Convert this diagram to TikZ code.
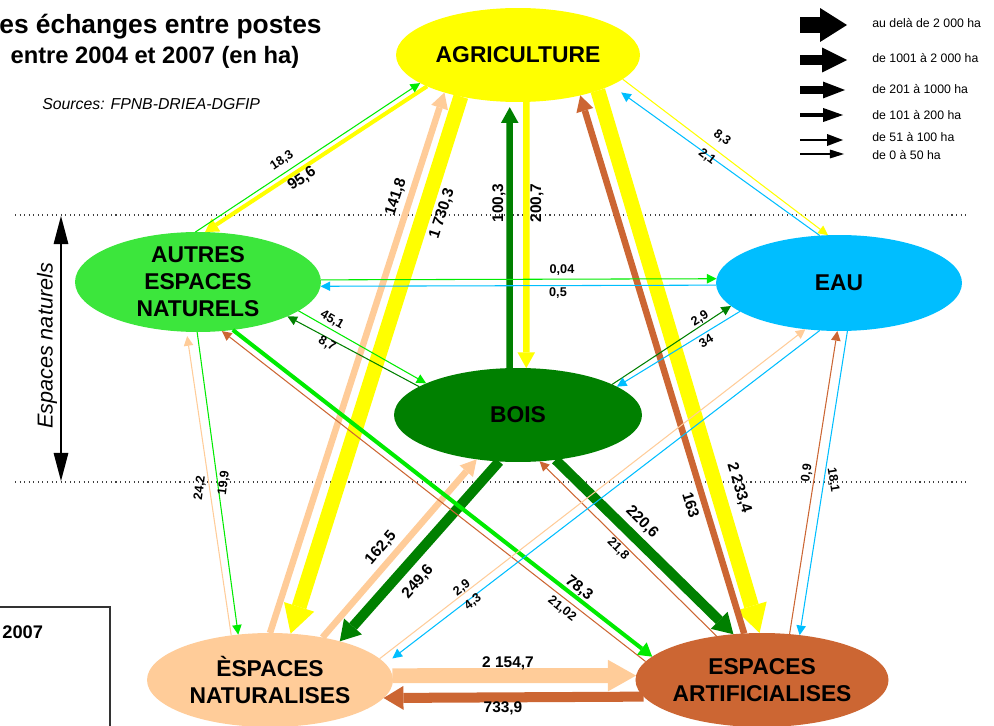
\documentclass[tikz,border=0pt]{standalone}
\usepackage{fontspec}
\setmainfont{Liberation Sans}
\usepackage{xcolor}
\usetikzlibrary{arrows.meta, shapes.geometric}

\definecolor{jaune}{RGB}{255,255,0}
\definecolor{vertclair}{RGB}{60,230,60}
\definecolor{vert}{RGB}{0,235,0}
\definecolor{vertfonce}{RGB}{0,128,0}
\definecolor{bleu}{RGB}{0,190,255}
\definecolor{peche}{RGB}{255,204,153}
\definecolor{brique}{RGB}{204,102,51}

\tikzset{
	poste/.style = {ellipse, inner sep=0pt, outer sep=0pt, align=center, font=\fontsize{13}{15.4}\selectfont\bfseries},
	fa/.style = {line width=0.6pt, -{Triangle[length=5.5pt, width=5.5pt, line width=0pt]}},
	fb/.style = {line width=2.3pt, -{Triangle[length=7.5pt, width=9pt, line width=0pt]}},
	fc/.style = {line width=3.7pt, -{Triangle[length=9pt, width=10pt, line width=0pt]}},
	fd/.style = {line width=5.7pt, -{Triangle[length=11.3pt, width=13.6pt, line width=0pt]}},
	fe/.style = {line width=8.5pt, -{Triangle[length=16pt, width=18pt, line width=0pt]}},
	petit/.style = {font=\fontsize{7.2}{8}\selectfont\bfseries, inner sep=0pt},
	grand/.style = {font=\fontsize{8.8}{10}\selectfont\bfseries, inner sep=0pt},
	legende/.style = {font=\fontsize{7}{8}\selectfont, anchor=west, inner sep=0pt},
}

\begin{document}
\begin{tikzpicture}[x=0.02cm, y=-0.02cm]
			\useasboundingbox (0,0) rectangle (994,726);

			\begin{scope}
				\node [anchor=west, inner sep=0pt, font=\fontsize{15}{17}\selectfont\bfseries] (titre) at (-1,27) {es échanges entre postes};
				\node [inner sep=0pt, font=\fontsize{13.5}{16}\selectfont\bfseries] (periode) at (155,57) {entre 2004 et 2007 (en ha)};
				\node [anchor=west, inner sep=0pt, font=\fontsize{9}{11}\selectfont\itshape] (sources) at (42,104) {Sources: FPNB-DRIEA-DGFIP};
			\end{scope}

			\begin{scope}[dotted, line width=0.6pt, black!75]
				\draw (15,215) -- (967,215);
				\draw (15,482) -- (967,482);
			\end{scope}

			\coordinate (haut) at (61,216);
			\coordinate (bas) at (61,481);
			\draw [line width=0.6pt, {Triangle[length=16pt, width=8.5pt, line width=0pt]}-{Triangle[length=16pt, width=8.5pt, line width=0pt]}] (haut) -- (bas);
			\node [rotate=90, inner sep=0pt, font=\fontsize{12.3}{15}\selectfont\itshape] (naturels) at (47,346) {Espaces naturels};

			\draw [line width=0.6pt, black!80] (-5,607) rectangle (110,740);
			\node [anchor=west, inner sep=0pt, font=\fontsize{10.4}{12}\selectfont\bfseries] (annee) at (2,632) {2007};

			\foreach \i/\y/\lw/\hl/\hw/\xe/\yt/\txt in {
					1/25/9.6pt/15.3pt/19.3pt/847/23/au delà de 2 000 ha,
					2/60/5.7pt/14.2pt/14.2pt/847/58/de 1001 à 2 000 ha,
					3/90/4pt/12.5pt/9.6pt/845/89/de 201 à 1000 ha,
					4/115/2.8pt/11.3pt/8pt/843/115/de 101 à 200 ha,
					5/140/1.7pt/9pt/6.8pt/843/137/de 51 à 100 ha,
					6/154/0.6pt/8pt/5.1pt/844/155/de 0 à 50 ha}{
				\coordinate (lgd\i) at (800,\y);
				\coordinate (lgf\i) at (\xe,\y);
				\draw [line width=\lw, -{Triangle[length=\hl, width=\hw, line width=0pt]}] (lgd\i) -- (lgf\i);
				\node [legende] (lgt\i) at (872,\yt) {\txt};
			}

			\begin{scope}
				\node [poste, fill=jaune, minimum width=4.88cm, minimum height=1.88cm] (agri) at (518,55) {AGRICULTURE};
				\node [poste, fill=vertclair, minimum width=4.92cm, minimum height=2cm] (autres) at (198,282) {AUTRES\\ESPACES\\NATURELS};
				\node [poste, fill=bleu, minimum width=4.92cm, minimum height=1.92cm] (eau) at (839,283) {EAU};
				\node [poste, fill=vertfonce, minimum width=4.96cm, minimum height=1.88cm] (bois) at (518,415) {BOIS};
				\node [poste, fill=peche, minimum width=4.92cm, minimum height=1.88cm] (espnat) at (270,680) {ÈSPACES\\NATURALISES};
				\node [poste, fill=brique, minimum width=4.96cm, minimum height=1.88cm] (espart) at (762,680) {ESPACES\\ARTIFICIALISES};
			\end{scope}

			\begin{scope}
				\draw [fe, jaune] (agri.216) -- (espnat.66);
				\draw [fe, jaune] (agri.336) -- (espart.93);
				\draw [fe, peche] (espnat.2) -- (espart.178);

				\draw [fd, vertfonce] (bois.248) -- (espnat.29.2);
				\draw [fd, vertfonce] (bois.310.7) -- (espart.122);
				\draw [fd, brique] (espart.188) -- (espnat.351.8);

				\draw [fc, peche] (espnat.90) -- (agri.207);
				\draw [fc, vertfonce, shorten >=3pt] (bois.100) -- (agri.260);
				\draw [fc, jaune] (agri.280) -- (bois.80.5);
				\draw [fc, brique] (espart.111.6) -- (agri.327);
				\draw [fc, peche] (espnat.39) -- (bois.227.5);

				\draw [fb, jaune] (agri.199) -- (autres.82);
				\draw [fb, vert] (autres.306) -- (espart.168.6);

				\draw [fa, vert] (autres.93) -- (agri.196);
				\draw [fa, jaune] (agri.347) -- (eau.103);
				\draw [fa, bleu, shorten >=7pt] (eau.112) -- (agri.342.5);
				\draw [fa, vert] (autres.1) -- (eau.178.6);
				\draw [fa, bleu] (eau.181.4) -- (autres.358);
				\draw [fa, vert] (autres.344) -- (bois.161.4);
				\draw [fa, vertfonce] (bois.164.4) -- (autres.339.8);
				\draw [fa, peche, shorten >=2.5pt] (espnat.131.8) -- (autres.257.6);
				\draw [fa, vert] (autres.269) -- (espnat.125);
				\draw [fa, brique] (espart.171.7) -- (autres.296.6);
				\draw [fa, vertfonce] (bois.18.3) -- (eau.192.9);
				\draw [fa, bleu] (eau.196.4) -- (bois.16.4);
				\draw [fa, brique] (espart.136) -- (bois.295.6);
				\draw [fa, brique] (espart.59.2) -- (eau.268.9);
				\draw [fa, bleu] (eau.280.6) -- (espart.50.8);
				\draw [fa, peche] (espnat.11.3) -- (eau.234.2);
				\draw [fa, bleu, shorten >=5pt] (eau.248) -- (espnat.8.2);
			\end{scope}

			\begin{scope}
				\node [petit, rotate=34] at (282,161) {18,3};
				\node [grand, rotate=34] at (302,179) {95,6};
				\node [grand, rotate=72] at (396,197) {141,8};
				\node [grand, rotate=72] at (442,214) {1 730,3};
				\node [grand, rotate=90] at (499,203) {100,3};
				\node [grand, rotate=90] at (537,203) {200,7};
				\node [grand, rotate=-73] at (691,505) {163};
				\node [grand, rotate=-73] at (739,488) {2 233,4};
				\node [petit, rotate=-37] at (722,138) {8,3};
				\node [petit, rotate=-37] at (707,157) {2,1};
				\node [petit] at (562,270) {0,04};
				\node [petit] at (558,293) {0,5};
				\node [petit, rotate=-30] at (332,320) {45,1};
				\node [petit, rotate=-30] at (327,344) {8,7};
				\node [petit, rotate=32] at (700,319) {2,9};
				\node [petit, rotate=32] at (706,341) {34};
				\node [petit, rotate=83] at (200,488) {24,2};
				\node [petit, rotate=83] at (224,483) {19,9};
				\node [grand, rotate=-45] at (642,522) {220,6};
				\node [petit, rotate=-45] at (618,549) {21,8};
				\node [grand, rotate=49] at (381,548) {162,5};
				\node [grand, rotate=49] at (418,582) {249,6};
				\node [grand, rotate=-38] at (579,588) {78,3};
				\node [petit, rotate=-38] at (562,609) {21,02};
				\node [petit, rotate=37] at (462,588) {2,9};
				\node [petit, rotate=37] at (473,602) {4,3};
				\node [petit, rotate=81] at (807,473) {0,9};
				\node [petit, rotate=-81] at (833,480) {18,1};
				\node [grand] at (508,663) {2 154,7};
				\node [grand] at (503,708) {733,9};
			\end{scope}
		\end{tikzpicture}
\end{document}
